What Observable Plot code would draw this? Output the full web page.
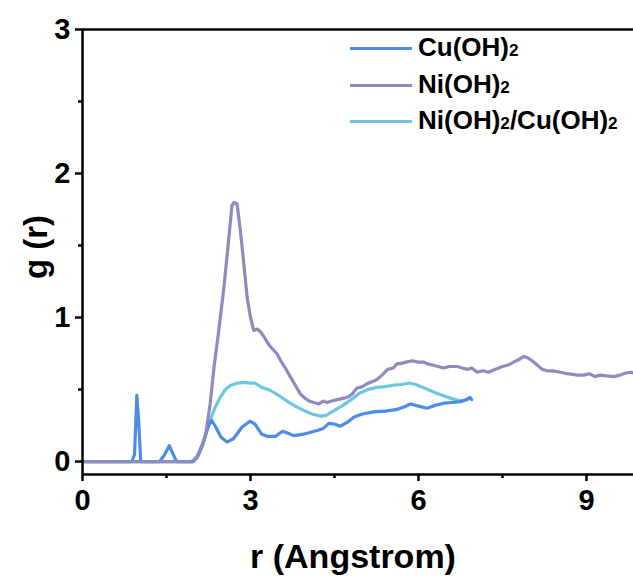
<!DOCTYPE html>
<html>
<head>
<meta charset="utf-8">
<script src="https://cdn.jsdelivr.net/npm/d3@7"></script>
<script src="https://cdn.jsdelivr.net/npm/@observablehq/plot@0.6"></script>
<style>
  html, body { margin: 0; padding: 0; background: #fff; }
  #wrap { position: relative; width: 633px; height: 576px; font-family: "Liberation Sans", Arial, sans-serif; font-weight: bold; overflow: hidden; }
  #wrap svg { position: absolute; left: 0; top: 0; }
  .lab { position: absolute; color: #000; white-space: nowrap; line-height: 1; }
  .leg { position: absolute; left: 350px; font-size: 26px; }
  .leg .sw { position: absolute; left: 0; width: 62px; height: 3px; top: 0; margin-top: -1px; }
  .leg .tx { position: absolute; left: 68px; top: -14px; line-height: 1; white-space: nowrap; }
  sub { font-size: 0.66em; vertical-align: baseline; }
</style>
</head>
<body>
<div id="wrap"></div>
<script>
// Cu(OH)2
const cuR = [0,0.88,0.93,0.97,1.0,1.04,1.38,1.47,1.55,1.62,1.68,1.98,2.05,2.15,2.25,2.31,2.38,2.47,2.58,2.7,2.85,2.99,3.08,3.2,3.3,3.45,3.57,3.65,3.77,3.95,4.19,4.3,4.4,4.5,4.6,4.72,4.85,5.0,5.2,5.4,5.6,5.75,5.86,5.95,6.15,6.3,6.45,6.6,6.75,6.85,6.92,6.95];
const cuG = [0,0,0.05,0.46,0.3,0,0,0.05,0.11,0.05,0,0,0.03,0.12,0.25,0.285,0.24,0.17,0.135,0.16,0.24,0.28,0.26,0.19,0.175,0.175,0.21,0.2,0.18,0.19,0.215,0.23,0.265,0.26,0.245,0.27,0.31,0.33,0.345,0.35,0.36,0.38,0.40,0.39,0.37,0.39,0.405,0.41,0.415,0.43,0.445,0.43];
// Ni(OH)2
const niR = [0,1.98,2.05,2.12,2.2,2.28,2.35,2.43,2.52,2.6,2.67,2.71,2.76,2.82,2.88,2.94,3.0,3.06,3.12,3.18,3.25,3.33,3.4,3.47,3.54,3.62,3.71,3.8,3.89,3.97,4.05,4.13,4.22,4.3,4.37,4.45,4.55,4.67,4.75,4.82,4.9,5.0,5.08,5.18,5.26,5.35,5.45,5.55,5.62,5.68,5.78,5.89,6.0,6.1,6.15,6.25,6.35,6.45,6.55,6.69,6.78,6.88,6.95,7.05,7.15,7.25,7.4,7.5,7.6,7.7,7.8,7.88,7.95,8.03,8.12,8.21,8.3,8.4,8.54,8.65,8.75,8.85,8.95,9.05,9.15,9.25,9.35,9.49,9.6,9.7,9.79,9.84];
const niG = [0,0,0.03,0.09,0.19,0.4,0.66,0.9,1.19,1.5,1.78,1.80,1.79,1.6,1.38,1.14,1.0,0.91,0.92,0.9,0.86,0.81,0.78,0.75,0.70,0.65,0.59,0.53,0.47,0.44,0.42,0.41,0.40,0.42,0.41,0.42,0.43,0.44,0.45,0.47,0.51,0.52,0.54,0.555,0.57,0.6,0.64,0.65,0.68,0.68,0.69,0.70,0.69,0.69,0.68,0.67,0.66,0.65,0.66,0.66,0.65,0.64,0.65,0.62,0.63,0.62,0.645,0.66,0.67,0.69,0.71,0.73,0.72,0.70,0.67,0.64,0.63,0.63,0.62,0.61,0.605,0.6,0.6,0.61,0.59,0.6,0.595,0.59,0.6,0.615,0.62,0.615];
// Ni(OH)2/Cu(OH)2
const mixR = [0,1.95,2.05,2.15,2.25,2.35,2.45,2.55,2.65,2.78,2.9,3.0,3.08,3.2,3.35,3.5,3.65,3.8,3.95,4.1,4.25,4.35,4.5,4.65,4.8,4.95,5.1,5.25,5.4,5.55,5.7,5.83,5.95,6.05,6.2,6.35,6.5,6.65,6.78,6.87,6.92];
const mixG = [0,0,0.04,0.13,0.25,0.36,0.44,0.5,0.53,0.545,0.55,0.545,0.545,0.515,0.495,0.46,0.42,0.385,0.355,0.33,0.315,0.32,0.355,0.39,0.43,0.475,0.5,0.515,0.52,0.53,0.535,0.545,0.535,0.52,0.495,0.47,0.45,0.43,0.42,0.43,0.44];

const seriesNames = ["Cu(OH)2", "Ni(OH)2", "Ni(OH)2/Cu(OH)2"];
const seriesColors = ["#4c8ce6", "#8d8bc0", "#6cc6e0"];
const xTicks = [0, 3, 6, 9];
const xMinor = [1.5, 4.5, 7.5];
const yTicks = [0, 1, 2, 3];
const yMinor = [0.5, 1.5, 2.5];

const toRows = (rs, gs, s) => rs.map((r, i) => ({r, g: gs[i], s}));
const cu = toRows(cuR, cuG, seriesNames[0]);
const ni = toRows(niR, niG, seriesNames[1]);
const mix = toRows(mixR, mixG, seriesNames[2]);

const font = "Liberation Sans, Arial, sans-serif";
const chart = Plot.plot({
  width: 633,
  height: 576,
  marginLeft: 82,
  marginRight: 0,
  marginTop: 29,
  marginBottom: 102,
  style: {fontFamily: font, background: "transparent"},
  x: {domain: [0, 9.84]},
  y: {domain: [-0.09, 3]},
  color: {domain: seriesNames, range: seriesColors},
  marks: [
    Plot.line(mix, {x: "r", y: "g", stroke: seriesColors[2], strokeWidth: 3.2}),
    Plot.line(cu, {x: "r", y: "g", stroke: seriesColors[0], strokeWidth: 3.2}),
    Plot.line(ni, {x: "r", y: "g", stroke: seriesColors[1], strokeWidth: 3.2}),
    Plot.ruleX([0], {stroke: "#000", strokeWidth: 2.5}),
    Plot.ruleY([-0.09], {stroke: "#000", strokeWidth: 2.5}),
    Plot.ruleY([3], {stroke: "#000", strokeWidth: 2.5}),
    Plot.axisX({ticks: xTicks, tickFormat: d3.format("d"), tickSize: 7, tickPadding: 8, fontSize: 29, fontWeight: "bold", fill: "#000", stroke: "#000", strokeWidth: 2.5, label: null}),
    Plot.axisX({ticks: xMinor, tickSize: 4, text: null, stroke: "#000", strokeWidth: 2.5, label: null}),
    Plot.axisY({ticks: yTicks, tickFormat: d3.format("d"), tickSize: 7, tickPadding: 5, fontSize: 29, fontWeight: "bold", fill: "#000", stroke: "#000", strokeWidth: 2.5, label: null}),
    Plot.axisY({ticks: yMinor, tickSize: 4, text: null, stroke: "#000", strokeWidth: 2.5, label: null})
  ]
});

const wrap = document.getElementById("wrap");
wrap.appendChild(chart);

function addLabel(html, css) {
  const d = document.createElement("div");
  d.className = "lab";
  d.innerHTML = html;
  Object.assign(d.style, css);
  wrap.appendChild(d);
  return d;
}
// axis titles
addLabel("r (Angstrom)", {fontSize: "34px", left: "353px", top: "556px", transform: "translate(-50%,-50%)"});
addLabel("g (r)", {fontSize: "33px", left: "35px", top: "247px", transform: "translate(-50%,-50%) rotate(-90deg)"});

// legend
const legendY = [48, 85, 121];
const fmt = s => s.replace(/2/g, "<sub>2</sub>");
seriesNames.forEach((name, i) => {
  const row = document.createElement("div");
  row.className = "leg";
  row.style.top = legendY[i] + "px";
  row.innerHTML = `<div class="sw" style="background:${seriesColors[i]}"></div><div class="tx">${fmt(name)}</div>`;
  wrap.appendChild(row);
});
</script>
</body>
</html>
